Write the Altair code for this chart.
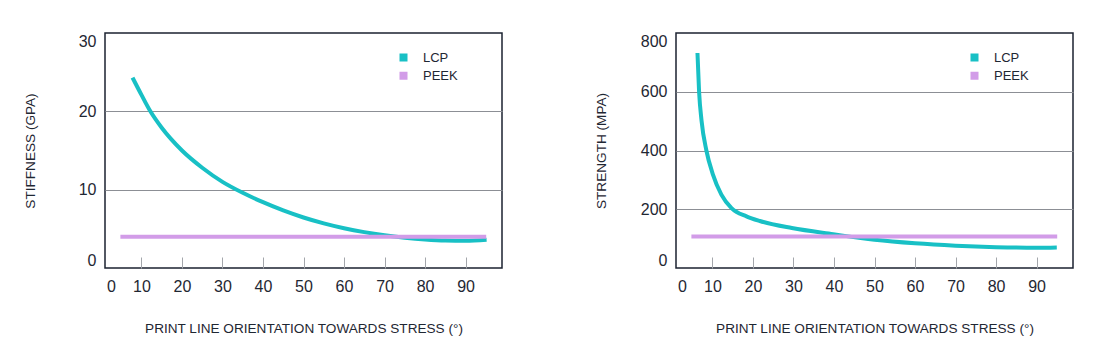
import altair as alt
import pandas as pd

# ---- data ----
materials = ["LCP", "PEEK"]

stiff_lcp_angle = [7.8, 10, 12.2, 15, 20, 25, 30, 35, 40, 45, 50, 55, 60, 65, 70, 75, 80, 85, 90, 95.2]
stiff_lcp_value = [24.3, 22.1, 20.0, 17.9, 15.0, 12.8, 11.0, 9.6, 8.4, 7.35, 6.45, 5.7, 5.08, 4.58, 4.18, 3.87, 3.64, 3.5, 3.47, 3.6]
stiff_peek_angle = [4.8, 95.1]
stiff_peek_value = [4.0, 4.0]

str_lcp_angle = [6.3, 6.7, 7.3, 8.5, 10.1, 12.2, 14.7, 18.4, 21.7, 29.6, 39.8, 50, 60, 70, 80, 90, 95]
str_lcp_value = [732, 600, 502, 400, 319, 250, 204, 176, 160, 136, 115, 96, 84, 76, 71, 69, 70]
str_peek_angle = [4.8, 95.1]
str_peek_value = [107, 107]

x_tick_values = [1, 10, 20, 30, 40, 50, 60, 70, 80, 90]
stiff_ticks = [0, 10, 20, 30]
str_ticks = [0, 200, 400, 600, 800]

x_title = "PRINT LINE ORIENTATION TOWARDS STRESS (°)"

TEAL = "#18c0c5"
LAVENDER = "#d29ce8"
TEXT = "#1f2733"
FRAME = "#1b2230"


def make_df(a1, v1, a2, v2):
    return pd.DataFrame({
        "angle": a1 + a2,
        "value": v1 + v2,
        "material": ["LCP"] * len(a1) + ["PEEK"] * len(a2),
    })


def panel(df, ytitle, ydomain, yticks, title_pad):
    top = ydomain[1]
    return alt.Chart(df).mark_line(strokeWidth=4, interpolate="monotone").encode(
        x=alt.X(
            "angle:Q",
            scale=alt.Scale(domain=[1, 99], nice=False, zero=False),
            axis=alt.Axis(
                values=x_tick_values,
                labelExpr="datum.value == 1 ? '0' : datum.label",
                offset=-11,
                tickSize=11,
                tickColor={"condition": {"test": "datum.value == 1", "value": "transparent"}, "value": "#a3a6ab"},
                tickWidth=1,
                domain=False,
                grid=False,
                labelPadding=10,
                labelFlush=True,
                labelFlushOffset=-1.5,
                labelFontSize=16,
                labelColor=TEXT,
                title=x_title,
                titleFontSize=13.6,
                titleFontWeight="normal",
                titleColor=TEXT,
                titlePadding=27,
            ),
        ),
        y=alt.Y(
            "value:Q",
            scale=alt.Scale(domain=ydomain, nice=False),
            axis=alt.Axis(
                values=yticks,
                grid=True,
                gridColor={"condition": {"test": f"datum.value == 0 || datum.value == {top}", "value": "transparent"}, "value": "#8c8f95"},
                gridWidth=1,
                ticks=False,
                domain=False,
                labelFlush=True,
                labelPadding=9,
                labelFontSize=16,
                labelColor=TEXT,
                title=ytitle,
                titleFontSize=13.6,
                titleFontWeight="normal",
                titleColor=TEXT,
                titlePadding=title_pad,
            ),
        ),
        color=alt.Color(
            "material:N",
            scale=alt.Scale(domain=materials, range=[TEAL, LAVENDER]),
            legend=alt.Legend(
                orient="none",
                legendX=292,
                legendY=18,
                title=None,
                symbolType="square",
                symbolSize=16,
                symbolStrokeWidth=4,
                labelFontSize=13,
                labelColor=TEXT,
                labelOffset=13,
                clipHeight=13,
                rowPadding=4.3,
                padding=0,
            ),
        ),
    ).properties(width=397, height=235)


left = panel(make_df(stiff_lcp_angle, stiff_lcp_value, stiff_peek_angle, stiff_peek_value),
             "STIFFNESS (GPA)", [0, 30], stiff_ticks, 40.5)
right = panel(make_df(str_lcp_angle, str_lcp_value, str_peek_angle, str_peek_value),
              "STRENGTH (MPA)", [0, 800], str_ticks, 32)

chart = alt.hconcat(left, right, spacing=90).resolve_scale(color="independent").properties(
    padding={"left": 14, "top": 24, "right": 5, "bottom": 5}
).configure(font="Liberation Sans").configure_view(stroke=FRAME, strokeWidth=1.5)

chart.save("out.html", embed_options={"renderer": "svg", "actions": False})
